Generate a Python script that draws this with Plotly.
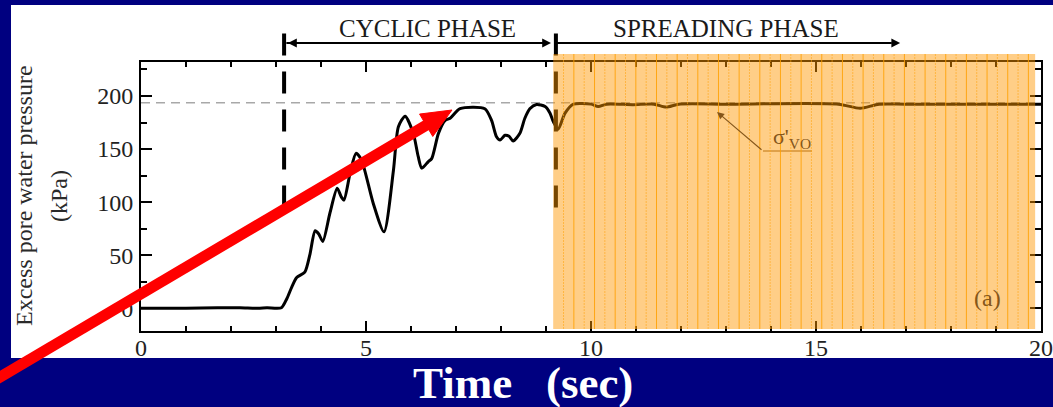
import plotly.graph_objects as go

# ---------------- data ----------------
time_s = [0, 1.0, 1.7, 2.2, 2.6, 2.8, 3.12, 3.24, 3.35, 3.46, 3.64, 3.75, 3.87, 3.95, 4.04,
          4.2, 4.36, 4.45, 4.51, 4.65, 4.78, 4.9, 5.16, 5.4, 5.61, 5.72, 5.87, 6.05, 6.16,
          6.24, 6.38, 6.46, 6.61, 6.76, 6.87, 7.09, 7.64, 7.79, 7.9, 7.98, 8.09, 8.18, 8.27,
          8.42, 8.53, 8.64, 8.79, 8.98, 9.09, 9.16, 9.27, 9.42, 9.61, 10.0, 10.16, 10.35,
          10.93, 11.4, 11.67, 11.95, 13.0, 15.5, 15.98, 16.4, 17.0, 20.0]
pressure = [0, 0, 0.5, 0.5, 0, 0.5, 0.5, 9, 20, 29, 34, 50, 73, 70, 63,
            90, 113, 105, 102, 128, 146, 139.6, 99, 72, 130, 171, 181, 165, 143,
            132, 138, 141, 164.8, 177, 179, 188, 188, 177, 161.6, 158.5, 163, 162, 157.5,
            164.8, 179, 188, 192, 190, 183.7, 176, 168.6, 183.6, 192.3, 192.3, 190, 192.3,
            191.8, 192.3, 189.5, 192.3, 192.3, 192.3, 188.4, 192.3, 192.3, 192.3]

sigma_vo = 193.7          # effective vertical stress (kPa)
cyclic_start = 3.18       # s
spreading_start = 9.22    # s
spreading_arrow_end = 16.87
dash_bottom = 95          # kPa, bottom end of the phase dividers
shade_start, shade_end = 9.16, 19.87
x_ticks = [0, 5, 10, 15, 20]
y_ticks = [0, 50, 100, 150, 200]

# ---------------- layout geometry ----------------
W, H = 1053, 407
L, R, T, B = 141, 1041, 62, 331
XR = [0, 20]
YR = [-21.4, 232]


def px_x(px):
    return (px - L) / (R - L)


def px_y(py):
    return (B - py) / (B - T)


def tx(px):  # pixel -> data time
    return XR[0] + (px - L) / (R - L) * (XR[1] - XR[0])


def vy(py):  # pixel -> data pressure
    return YR[0] + (B - py) / (B - T) * (YR[1] - YR[0])


def py_of(v):  # data pressure -> pixel
    return B - (v - YR[0]) / (YR[1] - YR[0]) * (B - T)


SERIF = "Liberation Serif, Times New Roman, serif"
BROWN = "#85561a"

fig = go.Figure()
fig.add_trace(go.Scatter(x=time_s, y=pressure, mode="lines",
                         line=dict(color="black", width=3, shape="spline", smoothing=0.7),
                         hoverinfo="skip", showlegend=False))

shapes = []
# white panel
shapes.append(dict(type="rect", xref="paper", yref="paper", layer="below",
                   x0=px_x(11), x1=px_x(W + 5), y0=px_y(358), y1=px_y(5),
                   fillcolor="white", line=dict(width=0)))
# sigma_vo reference line
shapes.append(dict(type="line", xref="paper", yref="y", x0=0, x1=1, y0=sigma_vo, y1=sigma_vo,
                   line=dict(color="#a8a8a8", width=1.5, dash="9px,6px"), layer="below"))
# phase dividers
for xv in (cyclic_start, spreading_start):
    shapes.append(dict(type="line", xref="x", yref="paper", x0=xv, x1=xv,
                       y0=px_y(py_of(dash_bottom)), y1=px_y(33),
                       line=dict(color="black", width=4, dash="22px,16px")))
# horizontal line of the phase arrows
shapes.append(dict(type="line", xref="x", yref="paper", x0=cyclic_start + 0.05, x1=tx(548),
                   y0=px_y(43), y1=px_y(43), line=dict(color="black", width=2)))
shapes.append(dict(type="line", xref="x", yref="paper", x0=spreading_start, x1=spreading_arrow_end - 0.2,
                   y0=px_y(43), y1=px_y(43), line=dict(color="black", width=2)))
# leader line of sigma label
shapes.append(dict(type="line", xref="x", yref="y", x0=tx(763), x1=tx(812), y0=vy(151), y1=vy(151),
                   line=dict(color=BROWN, width=1.2)))
# shaded spreading region
shapes.append(dict(type="rect", xref="x", yref="paper", x0=shade_start, x1=shade_end,
                   y0=px_y(329), y1=px_y(54), fillcolor="rgba(255,150,0,0.47)",
                   line=dict(width=0), layer="above"))
step = 10.33 / (R - L) * (XR[1] - XR[0])
k = 1
xs = shade_start + step
while xs < shade_end - 0.02:
    if k % 2 == 0:
        ln = dict(color="rgba(255,160,0,0.85)", width=1)
    else:
        ln = dict(color="rgba(255,165,20,0.6)", width=1, dash="2px,1px")
    shapes.append(dict(type="line", xref="x", yref="paper", x0=xs, x1=xs,
                       y0=px_y(329), y1=px_y(54), line=ln, layer="above"))
    xs += step
    k += 1

# big red arrow (overlay decoration)
tip = (452, 110)
tail = (-20, 389)
dx, dy = tip[0] - tail[0], tip[1] - tail[1]
ln_ = (dx * dx + dy * dy) ** 0.5
ux, uy = dx / ln_, dy / ln_
nx, ny = -uy, ux
head_len, head_half = 30, 13
bx, by = tip[0] - head_len * ux, tip[1] - head_len * uy
shapes.append(dict(type="line", xref="paper", yref="paper",
                   x0=px_x(tail[0]), y0=px_y(tail[1]), x1=px_x(bx + 2 * ux), y1=px_y(by + 2 * uy),
                   line=dict(color="#ff0000", width=11), layer="above"))
pts = [tip, (bx + head_half * nx, by + head_half * ny), (bx - head_half * nx, by - head_half * ny)]
path = "M " + " L ".join(f"{px_x(p[0]):.5f},{px_y(p[1]):.5f}" for p in pts) + " Z"
shapes.append(dict(type="path", xref="paper", yref="paper", path=path,
                   fillcolor="#ff0000", line=dict(color="#ff0000", width=1), layer="above"))

C = dict(xanchor="center", yanchor="middle")
annotations = [
    dict(text="CYCLIC PHASE", xref="x", yref="paper", x=tx(427), y=px_y(29), showarrow=False,
         font=dict(family=SERIF, size=25, color="#1a1a1a"), **C),
    dict(text="SPREADING PHASE", xref="x", yref="paper", x=tx(726), y=px_y(29), showarrow=False,
         font=dict(family=SERIF, size=25, color="#1a1a1a"), **C),
    # arrowheads of phase arrows
    dict(text="", xref="x", yref="paper", x=tx(551), y=px_y(43), ax=-40, ay=0, showarrow=True,
         arrowhead=2, arrowsize=1.1, arrowwidth=1.6, arrowcolor="black"),
    dict(text="", xref="x", yref="paper", x=tx(288), y=px_y(43), ax=40, ay=0, showarrow=True,
         arrowhead=2, arrowsize=1.1, arrowwidth=1.6, arrowcolor="black"),
    dict(text="", xref="x", yref="paper", x=spreading_arrow_end, y=px_y(43), ax=-40, ay=0, showarrow=True,
         arrowhead=2, arrowsize=1.1, arrowwidth=1.6, arrowcolor="black"),
    # sigma label
    dict(text="", xref="x", yref="y", x=tx(717), y=vy(112), ax=46, ay=39, showarrow=True,
         arrowhead=2, arrowsize=1.3, arrowwidth=1.1, arrowcolor=BROWN),
    dict(text="σ'<sub>VO</sub>", xref="x", yref="y", x=tx(792), y=vy(138), showarrow=False,
         font=dict(family=SERIF, size=22, color=BROWN), **C),
    dict(text="(a)", xref="x", yref="y", x=tx(987), y=vy(298), showarrow=False,
         font=dict(family=SERIF, size=24, color=BROWN), **C),
    # y title
    dict(text="Excess pore water pressure", xref="paper", yref="paper", x=px_x(24), y=px_y(196),
         textangle=-90, showarrow=False, font=dict(family=SERIF, size=24, color="#2a2a2a"), **C),
    dict(text="(kPa)", xref="paper", yref="paper", x=px_x(59), y=px_y(196),
         textangle=-90, showarrow=False, font=dict(family=SERIF, size=24, color="#2a2a2a"), **C),
    # x title
    dict(text="Time\u00a0\u00a0\u00a0(sec)", xref="paper", yref="paper", x=px_x(523), y=px_y(383),
         showarrow=False, font=dict(family=SERIF, size=45, color="white", weight="bold"), **C),
]

axis_common = dict(showline=True, linecolor="black", linewidth=2, mirror="allticks",
                   ticks="inside", tickcolor="black", tickwidth=2, showgrid=False, zeroline=False,
                   ticklabeloverflow="allow", automargin=False,
                   tickfont=dict(family=SERIF, size=24, color="#222222"))

fig.update_layout(
    width=W, height=H,
    margin=dict(l=L, r=W - R, t=T, b=H - B, autoexpand=False),
    paper_bgcolor="#000080", plot_bgcolor="white",
    xaxis=dict(range=XR, tickvals=x_ticks, ticklen=10,
               minor=dict(dtick=1, tick0=0, ticklen=5, tickwidth=2, tickcolor="black", ticks="inside"),
               ticklabelstandoff=-6, **axis_common),
    yaxis=dict(range=YR, tickvals=y_ticks, ticklen=11,
               minor=dict(dtick=25, tick0=0, ticklen=6, tickwidth=2, tickcolor="black", ticks="inside"),
               ticklabelstandoff=1, **axis_common),
    shapes=shapes, annotations=annotations, showlegend=False,
)

fig.write_html("out.html")
